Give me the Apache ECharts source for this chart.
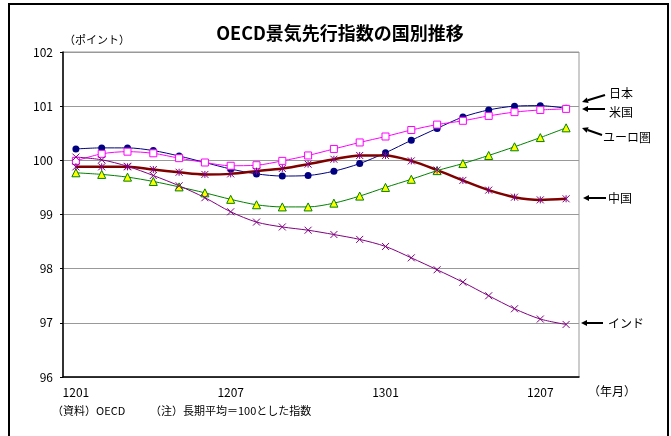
<!DOCTYPE html>
<html>
<head>
<meta charset="utf-8">
<script src="https://cdn.jsdelivr.net/npm/echarts@6/dist/echarts.min.js"></script>
<style>
  html, body { margin: 0; padding: 0; background: #fff; }
  #chart { width: 671px; height: 436px; }
</style>
</head>
<body>
<div id="chart"></div>
<script>
// 月 (2012/01 - 2013/08)
var months = ['1201', '1202', '1203', '1204', '1205', '1206', '1207', '1208', '1209', '1210', '1211', '1212',
    '1301', '1302', '1303', '1304', '1305', '1306', '1307', '1308'];
// 表示する目盛ラベル (元の図のまま)
var tickLabels = ['1201', '1207', '1301', '1207'];
var yTicks = [96, 97, 98, 99, 100, 101, 102];

var japan = [100.21, 100.23, 100.23, 100.18, 100.08, 99.96, 99.84, 99.75, 99.71, 99.72, 99.80,
    99.94, 100.14, 100.37, 100.59, 100.80, 100.93, 101.00, 101.01, 100.96];
var usa = [99.99, 100.12, 100.16, 100.13, 100.04, 99.96, 99.90, 99.91, 99.99, 100.09, 100.21,
    100.33, 100.44, 100.56, 100.66, 100.73, 100.82, 100.89, 100.93, 100.95];
var euro = [99.77, 99.74, 99.69, 99.61, 99.51, 99.40, 99.28, 99.18, 99.14, 99.14, 99.21,
    99.34, 99.50, 99.65, 99.81, 99.94, 100.09, 100.25, 100.42, 100.60];
var china = [99.88, 99.88, 99.88, 99.83, 99.78, 99.74, 99.75, 99.80, 99.85, 99.93, 100.02,
    100.09, 100.09, 99.99, 99.82, 99.63, 99.45, 99.32, 99.27, 99.29];
var india = [100.06, 100.01, 99.89, 99.72, 99.53, 99.31, 99.05, 98.86, 98.77, 98.71, 98.63,
    98.54, 98.41, 98.20, 97.98, 97.75, 97.50, 97.26, 97.07, 96.97];

var FONT = '"Noto Sans CJK JP", "Noto Sans", sans-serif';
var asterisk = 'path://M0,0L10,10M10,0L0,10M5,0L5,10';
var cross = 'path://M0,0L10,10M10,0L0,10';

var chart = document.getElementById('chart');
var myChart = echarts.init(chart);

// 右側の矢印と国名
function label(x1, y1, x2, y2, tx, ty, text) {
    var ang = Math.atan2(y2 - y1, x2 - x1);
    var h = 6, w = 3;
    var bx = x1 + Math.cos(ang) * h, by = y1 + Math.sin(ang) * h;
    return [{
        type: 'line',
        shape: {x1: bx, y1: by, x2: x2, y2: y2},
        style: {stroke: '#000', lineWidth: 2}
    }, {
        type: 'polygon',
        shape: {points: [[x1, y1], [bx - Math.sin(ang) * w, by + Math.cos(ang) * w], [bx + Math.sin(ang) * w, by - Math.cos(ang) * w]]},
        style: {fill: '#000'}
    }, {
        type: 'text',
        x: tx, y: ty,
        style: {text: text, font: '12px ' + FONT, fill: '#000', textVerticalAlign: 'middle'}
    }];
}

var graphics = [{
    type: 'rect',
    shape: {x: 9, y: 4, width: 659, height: 440},
    style: {fill: 'none', stroke: '#000', lineWidth: 2}
}, {
    type: 'text', x: 340, y: 33,
    style: {text: 'OECD景気先行指数の国別推移', font: 'bold 18px ' + FONT, fill: '#000', textAlign: 'center', textVerticalAlign: 'middle'}
}, {
    type: 'text', x: 64, y: 40,
    style: {text: '（ポイント）', font: '11px ' + FONT, fill: '#000', textVerticalAlign: 'middle'}
}, {
    type: 'text', x: 588, y: 391,
    style: {text: '（年月）', font: '12px ' + FONT, fill: '#000', textVerticalAlign: 'middle'}
}, {
    type: 'text', x: 52, y: 411,
    style: {text: '（資料）OECD', font: '11px ' + FONT, fill: '#000', textVerticalAlign: 'middle'}
}, {
    type: 'text', x: 150, y: 411,
    style: {text: '（注）長期平均＝100とした指数', font: '11px ' + FONT, fill: '#000', textVerticalAlign: 'middle'}
}];
graphics = graphics
    .concat(label(582, 102, 605, 95, 609, 93, '日本'))
    .concat(label(582, 109, 605, 109, 609, 112, '米国'))
    .concat(label(582, 128, 602, 135, 603, 137, 'ユーロ圏'))
    .concat(label(583, 198, 606, 198, 608, 198, '中国'))
    .concat(label(581, 323, 603, 323, 608, 323, 'インド'));

var option = {
    animation: false,
    textStyle: {fontFamily: FONT},
    grid: {
        left: 63, right: 92, top: 52, bottom: 59,
        show: true, borderColor: '#999', borderWidth: 1
    },
    xAxis: {
        type: 'category',
        data: months,
        boundaryGap: true,
        axisLine: {lineStyle: {color: '#000', width: 1.5}},
        axisTick: {inside: true, length: 4, interval: 0, lineStyle: {color: '#000'}},
        axisLabel: {
            interval: 5, margin: 9, color: '#000', fontSize: 12,
            formatter: function (v, i) { return tickLabels[i / 6]; }
        },
        splitLine: {show: false}
    },
    yAxis: {
        type: 'value',
        min: yTicks[0], max: yTicks[yTicks.length - 1], interval: 1,
        axisLine: {show: true, lineStyle: {color: '#000', width: 1.5}},
        axisTick: {show: true, length: 3, lineStyle: {color: '#000'}},
        axisLabel: {color: '#000', fontSize: 12, margin: 10},
        splitLine: {lineStyle: {color: '#999', width: 1}}
    },
    graphic: graphics,
    series: [{
        name: '日本', type: 'line', data: japan, smooth: 0.3,
        symbol: 'circle', symbolSize: 7,
        lineStyle: {color: '#000080', width: 1},
        itemStyle: {color: '#000080'}
    }, {
        name: '米国', type: 'line', data: usa, smooth: 0.3,
        symbol: 'rect', symbolSize: 7,
        lineStyle: {color: '#ff00ff', width: 1},
        itemStyle: {color: '#fff', borderColor: '#ff00ff', borderWidth: 1}
    }, {
        name: 'ユーロ圏', type: 'line', data: euro, smooth: 0.3,
        symbol: 'triangle', symbolSize: 8,
        lineStyle: {color: '#008000', width: 1},
        itemStyle: {color: '#ffff00', borderColor: '#008000', borderWidth: 1}
    }, {
        name: '中国', type: 'line', data: china, smooth: 0.3,
        symbol: asterisk, symbolSize: 7,
        lineStyle: {color: '#800000', width: 2.5},
        itemStyle: {color: 'transparent', borderColor: '#800080', borderWidth: 1}
    }, {
        name: 'インド', type: 'line', data: india, smooth: 0.3,
        symbol: cross, symbolSize: 7,
        lineStyle: {color: '#800080', width: 1},
        itemStyle: {color: 'transparent', borderColor: '#800080', borderWidth: 1}
    }]
};
myChart.setOption(option);
</script>
</body>
</html>
